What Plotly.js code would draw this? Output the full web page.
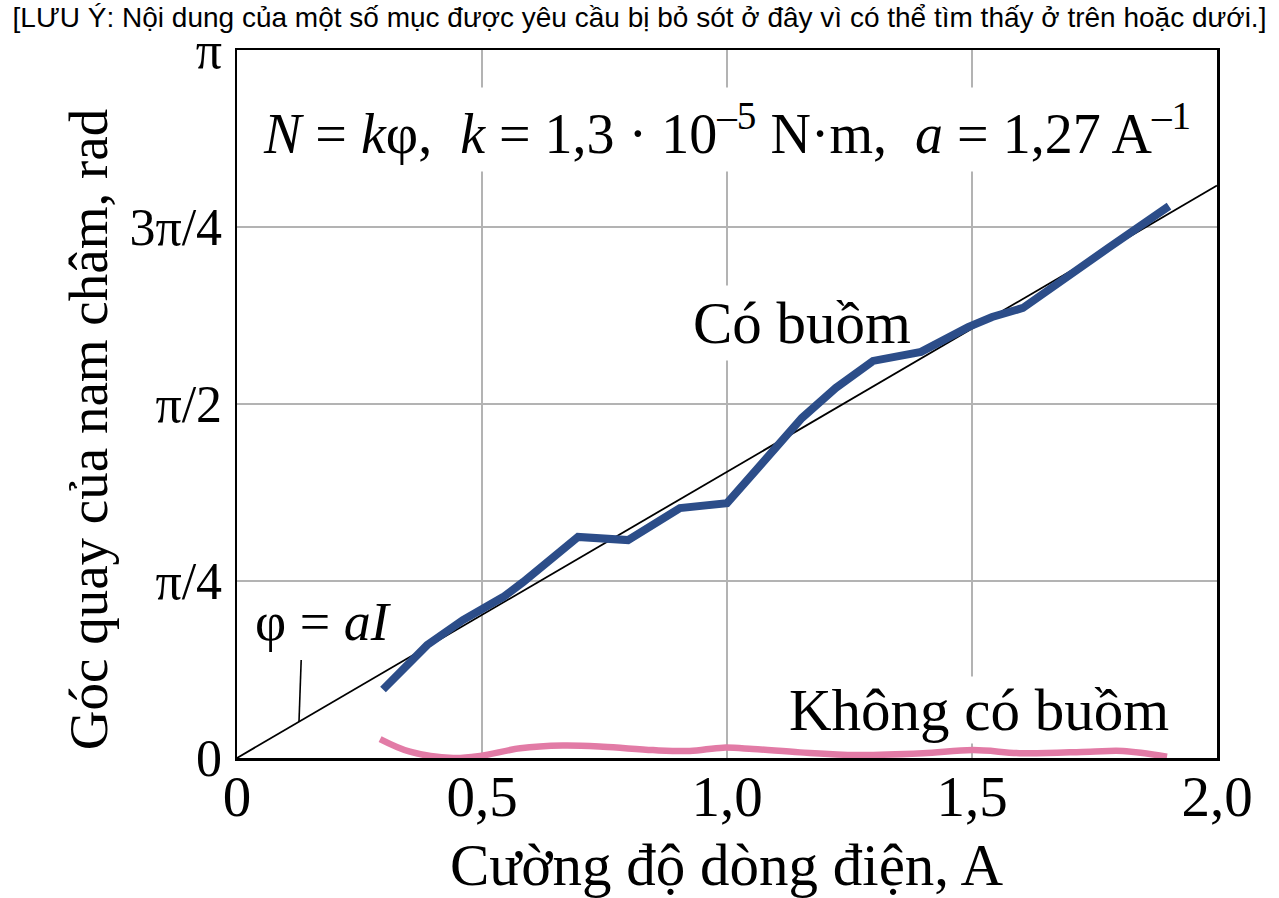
<!DOCTYPE html>
<html>
<head>
<meta charset="utf-8">
<script src="https://cdn.plot.ly/plotly-3.0.1.min.js"></script>
<style>
  html, body { margin: 0; padding: 0; background: #fff; }
  #chart { width: 1279px; height: 898px; }
</style>
</head>
<body>
<div id="chart"></div>
<script>
(function () {
  "use strict";

  // rad values
  var currentWith = [0.298, 0.339, 0.388, 0.461, 0.543, 0.584, 0.696, 0.798, 0.904, 1.0,
    1.118, 1.153, 1.222, 1.298, 1.396, 1.492, 1.541, 1.604, 1.778, 1.902];
  var angleWith = [0.304, 0.399, 0.501, 0.612, 0.714, 0.781, 0.981, 0.967, 1.109, 1.131,
    1.415, 1.509, 1.642, 1.762, 1.802, 1.912, 1.957, 1.997, 2.263, 2.449];

  var currentWithout = [0.292, 0.353, 0.441, 0.496, 0.578, 0.665, 0.747, 0.849, 0.924, 0.992,
    1.053, 1.149, 1.265, 1.400, 1.502, 1.604, 1.741, 1.808, 1.898];
  var angleWithout = [0.084, 0.028, 0.0, 0.009, 0.043, 0.055, 0.050, 0.035, 0.031, 0.046,
    0.040, 0.025, 0.013, 0.021, 0.035, 0.021, 0.028, 0.031, 0.006];

  var fitCurrent = [0, 2];
  var fitAngle = [0, 2.54];

  var xTickVals = [0, 0.5, 1, 1.5, 2];
  var xTickText = ["0", "0,5", "1,0", "1,5", "2,0"];
  var yTickVals = [0, Math.PI / 4, Math.PI / 2, 3 * Math.PI / 4, Math.PI];
  var yTickText = ["0", "π/4", "π/2", "3π/4", "π"];

  var serif = "Liberation Serif, Times New Roman, serif";
  var gridColor = "#b3b3b3";

  var traces = [
    {
      type: "scatter", mode: "lines",
      x: fitCurrent, y: fitAngle,
      line: { color: "#000000", width: 1.8 },
      hoverinfo: "skip"
    },
    {
      type: "scatter", mode: "lines",
      x: currentWithout, y: angleWithout,
      line: { color: "#e27ba6", width: 6.5, shape: "spline", smoothing: 1 },
      name: "Không có buồm"
    },
    {
      type: "scatter", mode: "lines",
      x: currentWith, y: angleWith,
      line: { color: "#2c4d89", width: 8 },
      name: "Có buồm"
    }
  ];

  function label(x, y, text, size, extra) {
    var a = {
      xref: "paper", yref: "paper", x: x, y: y,
      xanchor: "center", yanchor: "middle",
      text: text, showarrow: false,
      font: { family: serif, size: size, color: "#000000" }
    };
    for (var k in extra) { a[k] = extra[k]; }
    return a;
  }

  var layout = {
    width: 1279,
    height: 898,
    margin: { l: 237, r: 62, t: 50, b: 140 },
    paper_bgcolor: "#ffffff",
    plot_bgcolor: "#ffffff",
    showlegend: false,
    font: { family: serif, color: "#000000" },
    title: {
      text: "[LƯU Ý: Nội dung của một số mục được yêu cầu bị bỏ sót ở đây vì có thể tìm thấy ở trên hoặc dưới.]",
      font: { family: "Liberation Sans, Arial, sans-serif", size: 28, color: "#000000" },
      xref: "container", x: 0.5, xanchor: "center",
      yref: "container", y: 0.981, yanchor: "middle"
    },
    xaxis: {
      range: [0, 2],
      tickvals: xTickVals, ticktext: xTickText,
      tickfont: { family: serif, size: 57 },
      ticks: "", ticklabelstandoff: -13,
      showgrid: true, gridcolor: gridColor, gridwidth: 2,
      zeroline: false,
      showline: true, mirror: true, linecolor: "#000000", linewidth: 2.5,
      fixedrange: true
    },
    yaxis: {
      range: [0, Math.PI],
      tickvals: yTickVals, ticktext: yTickText,
      tickfont: { family: serif, size: 52 },
      ticks: "", ticklabelstandoff: 2,
      showgrid: true, gridcolor: gridColor, gridwidth: 2,
      zeroline: false,
      showline: true, mirror: true, linecolor: "#000000", linewidth: 2.5,
      fixedrange: true
    },
    shapes: [
      {
        // leader from the label down to the line φ = aI
        type: "line", xref: "x", yref: "y",
        x0: 0.1265, y0: 0.1607, x1: 0.131, y1: 0.435,
        line: { color: "#000000", width: 1.6 }
      }
    ],
    annotations: [
      label(0.5, -0.151, "Cường độ dòng điện, A", 59),
      label(-0.152, 0.463, "Góc quay của nam châm, rad", 55, { textangle: -90 }),
      label(0.5, 0.888,
        "<i>N</i> = <i>k</i>φ,  <i>k</i> = 1,3 · 10<sup>–5</sup> N·m,  <i>a</i> = 1,27 A<sup>–1</sup>",
        56, { bgcolor: "#ffffff", borderpad: 6 }),
      // blank patch that breaks the 1,0 gridline behind "Có buồm"
      label(0.5, 0.614, " ", 10, { bgcolor: "#ffffff", width: 16, height: 74, borderpad: 0 }),
      label(0.577, 0.614, "Có buồm", 59),
      label(0.757, 0.068, "Không có buồm", 59, { bgcolor: "#ffffff", borderpad: 0 }),
      label(0.0878, 0.192, "φ = <i>aI</i>", 54)
    ]
  };

  Plotly.newPlot("chart", traces, layout, { displayModeBar: false, staticPlot: true });
}());
</script>
</body>
</html>
